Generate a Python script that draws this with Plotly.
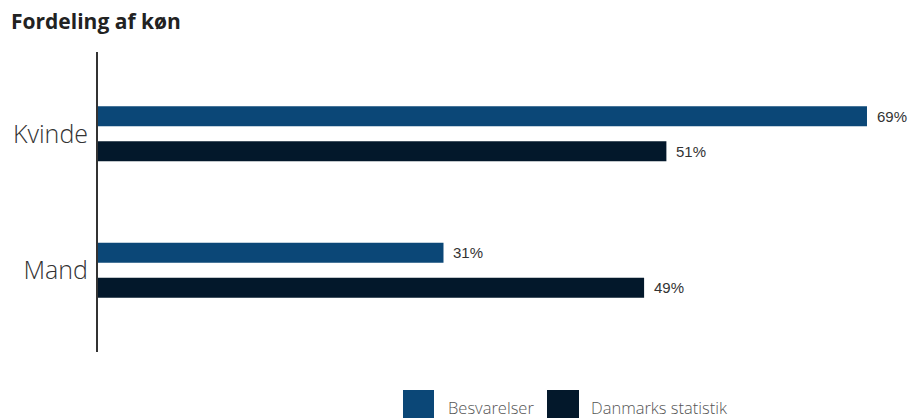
import plotly.graph_objects as go

# Kønsfordeling: besvarelser vs. Danmarks Statistik (procent)
categories = ["Kvinde", "Mand"]
besvarelser = [69, 31]
danmarks_statistik = [51, 49]
series_names = ["Besvarelser", "Danmarks statistik"]
series_colors = ["#0b4777", "#03182b"]

W, H = 915, 418
M_L, M_R, M_T, M_B = 98, 9, 52, 66
TEXT_FONT = "Open Sans, Lato"

fig = go.Figure()
for name, vals, col in zip(series_names, [besvarelser, danmarks_statistik], series_colors):
    fig.add_trace(go.Bar(
        y=categories, x=vals, name=name, orientation="h",
        marker=dict(color=col, line=dict(width=0)),
        showlegend=False, hoverinfo="x+name",
    ))

# Værdietiketter til højre for hver søjle
for vals, off in [(besvarelser, -0.128), (danmarks_statistik, 0.128)]:
    for i, v in enumerate(vals):
        fig.add_annotation(
            x=v, y=i + off, xref="x", yref="y", text=f"{v}%",
            showarrow=False, xanchor="left", yanchor="middle", xshift=8,
            font=dict(family="Liberation Sans, Arial", size=15, color="#333333"),
        )

# Forklaring nederst med store farvefelter
legend_items = [(403, 434, 446), (547, 579, 589)]
plot_w = W - M_L - M_R
plot_h = H - M_T - M_B
for (x0, x1, tx), name, col in zip(legend_items, series_names, series_colors):
    fig.add_shape(type="rect", xref="paper", yref="paper",
                  x0=(x0 - M_L) / plot_w, x1=(x1 - M_L) / plot_w,
                  y0=-(421 - (H - M_B)) / plot_h,
                  y1=-(390 - (H - M_B)) / plot_h,
                  fillcolor=col, line=dict(width=0))
    fig.add_annotation(xref="paper", yref="paper",
                       x=(tx - M_L) / plot_w,
                       y=-(407 - (H - M_B)) / plot_h,
                       text=name, showarrow=False, xanchor="left", yanchor="middle",
                       font=dict(family=TEXT_FONT, size=16.5, color="#555555", weight=300))

fig.update_layout(
    width=W, height=H,
    margin=dict(l=M_L, r=M_R, t=M_T, b=M_B, pad=0),
    paper_bgcolor="white", plot_bgcolor="white",
    barmode="group", bargap=0.487, bargroupgap=0.43,
    title=dict(text="<b>Fordeling af køn</b>", x=11 / W, xanchor="left",
               y=1 - 22 / H, yanchor="middle", yref="container",
               font=dict(family=TEXT_FONT, size=21, color="#222222")),
    xaxis=dict(range=[0, 72.5], visible=False, fixedrange=True),
    yaxis=dict(range=[1.6, -0.6], showgrid=False, zeroline=False,
               showline=True, linecolor="#333333", linewidth=2,
               ticks="", ticklabelstandoff=3,
               tickfont=dict(family=TEXT_FONT, size=25, color="#333333", weight=350)),
)

fig.write_html("out.html")
